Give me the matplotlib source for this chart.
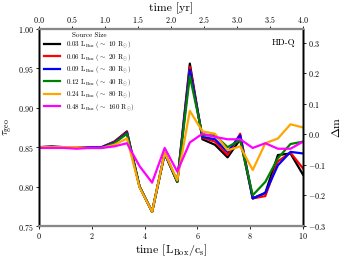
import matplotlib
matplotlib.use("Agg")
import matplotlib.pyplot as plt
import numpy as np

plt.rcParams["font.family"] = "serif"
plt.rcParams["font.serif"] = ["cmr10", "DejaVu Serif"]
plt.rcParams["mathtext.fontset"] = "cm"
plt.rcParams["axes.formatter.use_mathtext"] = True

# time in units of L_Box / c_s
t_box = np.arange(22) * 10.0 / 21.0

labels = [
    r"$\rm 0.03\ L_{Box}\ (\sim\ 10\ R_{\odot})$",
    r"$\rm 0.06\ L_{Box}\ (\sim\ 20\ R_{\odot})$",
    r"$\rm 0.09\ L_{Box}\ (\sim\ 30\ R_{\odot})$",
    r"$\rm 0.12\ L_{Box}\ (\sim\ 40\ R_{\odot})$",
    r"$\rm 0.24\ L_{Box}\ (\sim\ 80\ R_{\odot})$",
    r"$\rm 0.48\ L_{Box}\ (\sim\ 160\ R_{\odot})$",
]
colors = ["black", "red", "blue", "green", "orange", "magenta"]

tau_003 = [0.850, 0.851, 0.850, 0.850, 0.849, 0.850, 0.857, 0.870, 0.800, 0.768, 0.842,
           0.806, 0.956, 0.860, 0.853, 0.837, 0.860, 0.785, 0.792, 0.840, 0.842, 0.815]
tau_006 = [0.850, 0.850, 0.850, 0.850, 0.849, 0.850, 0.857, 0.869, 0.800, 0.768, 0.842,
           0.806, 0.952, 0.862, 0.857, 0.840, 0.867, 0.785, 0.788, 0.832, 0.843, 0.823]
tau_009 = [0.850, 0.850, 0.850, 0.850, 0.850, 0.850, 0.856, 0.868, 0.800, 0.768, 0.842,
           0.806, 0.948, 0.863, 0.860, 0.844, 0.865, 0.785, 0.792, 0.827, 0.844, 0.842]
tau_012 = [0.850, 0.850, 0.850, 0.850, 0.849, 0.849, 0.855, 0.867, 0.800, 0.768, 0.843,
           0.806, 0.940, 0.865, 0.865, 0.850, 0.859, 0.789, 0.806, 0.836, 0.854, 0.857]
tau_024 = [0.850, 0.850, 0.850, 0.850, 0.849, 0.849, 0.853, 0.861, 0.799, 0.768, 0.843,
           0.808, 0.896, 0.870, 0.867, 0.846, 0.851, 0.821, 0.855, 0.861, 0.879, 0.875]
tau_048 = [0.849, 0.849, 0.849, 0.848, 0.849, 0.849, 0.851, 0.855, 0.826, 0.805, 0.849,
           0.819, 0.856, 0.867, 0.863, 0.860, 0.860, 0.849, 0.855, 0.848, 0.848, 0.857]
series = [tau_003, tau_006, tau_009, tau_012, tau_024, tau_048]

fig = plt.figure(figsize=(3.44, 2.58), dpi=100)
ax = fig.add_axes([0.113, 0.124, 0.768, 0.764])

for vals, lab, col in zip(series, labels, colors):
    ax.plot(t_box, vals, color=col, lw=1.6, label=lab)

ax.set_xlim(0, 10)
ax.set_ylim(0.75, 1.0)
ax.set_xticks([0, 2, 4, 6, 8, 10])
ax.set_yticks([0.75, 0.80, 0.85, 0.90, 0.95, 1.00])
ax.set_xlabel(r"time [L$_{\rm Box}$/c$_{\rm s}$]", fontsize=8.5, labelpad=1)
ax.set_ylabel(r"$\tau_{\rm geo}$", fontsize=8, labelpad=2)
ax.tick_params(labelsize=5.8, length=2, width=0.6, pad=1.5, direction="out")
ax.text(0.97, 0.93, "HD-Q", transform=ax.transAxes, ha="right", va="center",
        fontsize=6.5)

lgnd = ax.legend(loc="upper left", frameon=False, fontsize=5,
                 title="Source Size", title_fontsize=5, handlelength=2.4,
                 handletextpad=0.8, labelspacing=0.22, borderaxespad=0.3,
                 bbox_to_anchor=(0.0, 1.01))

# right axis: magnitude change
ax2 = ax.twinx()
ax2.set_ylim(-0.3, 0.346)
ax2.set_yticks([-0.3, -0.2, -0.1, 0.0, 0.1, 0.2, 0.3])
ax2.set_ylabel(r"$\Delta$m", fontsize=8.5, labelpad=3)
ax2.tick_params(labelsize=5.8, length=2, width=0.6, pad=1.5, direction="out")

# top axis: time in years
ax3 = ax.twiny()
ax3.set_xlim(0, 4.0)
ax3.set_xticks(np.arange(0, 4.01, 0.5))
ax3.set_xlabel("time [yr]", fontsize=8.5, labelpad=2)
ax3.tick_params(labelsize=5.8, length=2, width=0.6, pad=1, direction="out")

for a in (ax, ax2, ax3):
    for side in ("top", "bottom"):
        a.spines[side].set_color("#888888")
        a.spines[side].set_linewidth(1.5)
    for side in ("left", "right"):
        a.spines[side].set_linewidth(1.0)

fig.savefig("out.png", dpi=100)
